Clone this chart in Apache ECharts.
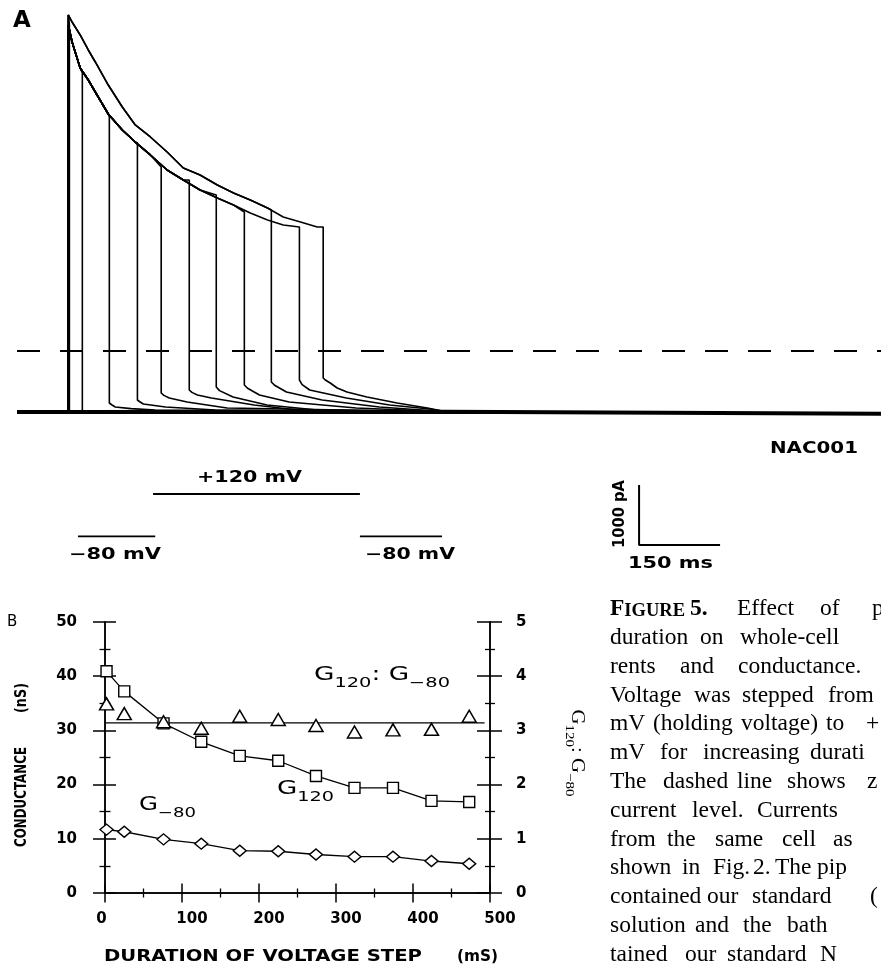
<!DOCTYPE html>
<html>
<head>
<meta charset="utf-8">
<script src="https://cdn.jsdelivr.net/npm/echarts@6/dist/echarts.min.js"></script>
<style>html,body{margin:0;padding:0;background:#fff;overflow:hidden}#c{width:881px;height:967px}</style>
</head>
<body>
<div id="c"></div>
<script>
// ================= Panel A: whole-cell currents (pA) vs time (ms) =================
const stepDurations = [2, 26, 76, 128, 172, 224, 274, 326, 376, 428, 472];
const envTime  = [0, 7, 22, 37, 50, 74, 100, 124, 152, 183, 213, 244, 276, 306, 337, 369, 398, 430, 461, 472];
const envUpper = [5600, 5483, 5267, 5017, 4817, 4433, 4067, 3767, 3567, 3317, 3050, 2933, 2767, 2633, 2517, 2383, 2233, 2150, 2067, 2050];
const envLower = [5433, 5150, 4717, 4517, 4317, 3950, 3683, 3483, 3267, 3017, 2850, 2683, 2550, 2433, 2300, 2183, 2100, 2050, 2017, 2000];
const traceUsesUpper = [true, false, false, false, false, false, false, false, true, false, true];
const dropTop    = [5450, 4633, 3900, 3467, 3067, 2850, 2600, 2317, 2350, 2067, 2067];
const dropBottom = [-1015, -1017, -867, -817, -700, -650, -600, -567, -517, -483, -450];
const tailDt = [
  [], [],
  [5, 11, 40, 85],
  [5, 11, 52, 144],
  [5, 15, 48, 122],
  [5, 15, 41, 120, 200],
  [6, 31, 94, 187],
  [6, 28, 83, 207],
  [6, 28, 94, 200],
  [5, 19, 87, 167, 241],
  [4, 13, 26, 44, 81, 137, 193]
];
const tailCurrent = [
  [], [],
  [-900, -933, -960, -983],
  [-850, -883, -933, -983],
  [-740, -783, -850, -950],
  [-690, -733, -783, -900, -983],
  [-660, -767, -900, -983],
  [-620, -733, -850, -950],
  [-570, -683, -817, -933],
  [-560, -650, -783, -900, -967],
  [-483, -533, -617, -683, -767, -867, -950]
];
const mergeTime = 700, mergeCurrent = -1012;
const holdTime    = [-95, 0, 700, 1505];
const holdCurrent = [-1015, -1015, -1012, -1045];
const zeroTime = [-95, 1505];
const scaleBarTime = 1057, scaleBarCurrent = -3233, scaleBarPA = 1000, scaleBarMS = 150;
// voltage protocol (schematic, mV)
const protoHold1 = [-139, 4], protoStep = [0, 383], protoHold2 = [383, 535];
const holdingMV = -80, stepMV = 120;

// ================= Panel B: conductance vs duration =================
const durationMs = [2, 25, 76, 125, 175, 225, 274, 324, 374, 424, 473];
const g120     = [40.9, 37.2, 31.3, 27.9, 25.3, 24.4, 21.6, 19.4, 19.4, 17.0, 16.8];
const gMinus80 = [11.7, 11.3, 9.9, 9.1, 7.8, 7.7, 7.1, 6.7, 6.7, 5.9, 5.4];
const gRatio   = [3.49, 3.31, 3.16, 3.04, 3.26, 3.20, 3.09, 2.97, 3.01, 3.02, 3.26];
const ratioFitX = [0, 493], ratioFitValue = 3.14;
const durationTicks    = ['0', '100', '200', '300', '400', '500'];
const conductanceTicks = ['0', '10', '20', '30', '40', '50'];
const ratioTicks       = ['0', '1', '2', '3', '4', '5'];

// caption (layout of words)
const captionLines = [
  [['FIGURE', 610], ['5.', 690], ['Effect', 737], ['of', 820], ['p', 872]],
  [['duration', 610], ['on', 700], ['whole-cell', 740]],
  [['rents', 610], ['and', 680], ['conductance.', 738]],
  [['Voltage', 610], ['was', 694], ['stepped', 742], ['from', 828]],
  [['mV', 610], ['(holding', 653], ['voltage)', 741], ['to', 826], ['+', 866]],
  [['mV', 610], ['for', 660], ['increasing', 703], ['durati', 810]],
  [['The', 610], ['dashed', 663], ['line', 737], ['shows', 787], ['z', 867]],
  [['current', 610], ['level.', 692], ['Currents', 757]],
  [['from', 610], ['the', 667], ['same', 715], ['cell', 782], ['as', 833]],
  [['shown', 610], ['in', 682], ['Fig.', 713], ['2.', 753], ['The', 775], ['pip', 817]],
  [['contained', 610], ['our', 707], ['standard', 752], ['(', 870]],
  [['solution', 610], ['and', 695], ['the', 743], ['bath', 787]],
  [['tained', 610], ['our', 685], ['standard', 727], ['N', 820]]
];

// ---------------- helpers ----------------
const mctx = document.createElement('canvas').getContext('2d');
function tw(t, font) { mctx.font = font; return mctx.measureText(t).width; }
const SANS = '"DejaVu Sans"';
const SERIF = '"Liberation Serif"';
const BLACK = '#000';
function fitText(text, font, x, y, target, align, rotation) {
  const sx = target ? target / tw(text, font) : 1;
  return { type: 'text', x: x, y: y, rotation: rotation || 0, scaleX: sx, silent: true,
    style: { text: text, font: font, fill: BLACK, align: align || 'left', verticalAlign: 'middle' } };
}
function subLabel(parts, x, y, target, fam, gSize, sSize, gLH, align, va, rotation) {
  let natural = 0;
  parts.forEach(p => { natural += tw(p[1], (p[0] === 'g' ? gSize : sSize) + 'px ' + fam); });
  const text = parts.map(p => '{' + p[0] + '|' + p[1] + '}').join('');
  return { type: 'text', x: x, y: y, rotation: rotation || 0, scaleX: target / natural, silent: true,
    style: { text: text, fill: BLACK, align: align, verticalAlign: va,
      rich: {
        g: { fontSize: gSize, fontFamily: fam, fill: BLACK, lineHeight: gLH, verticalAlign: 'middle' },
        s: { fontSize: sSize, fontFamily: fam, fill: BLACK, lineHeight: sSize, verticalAlign: 'bottom' }
      } } };
}

function buildTrace(k) {
  const env = traceUsesUpper[k] ? envUpper : envLower;
  const d = stepDurations[k];
  const pts = [[0, holdCurrent[1]]];
  for (let i = 0; i < envTime.length && envTime[i] < d; i++) pts.push([envTime[i], env[i]]);
  if (pts.length === 1) pts.push([0, env[0]]);
  pts.push([d, dropTop[k]]);
  pts.push([d, dropBottom[k]]);
  tailDt[k].forEach((dt, j) => pts.push([d + dt, tailCurrent[k][j]]));
  pts.push([mergeTime, mergeCurrent]);
  pts.push([holdTime[holdTime.length - 1], holdCurrent[holdCurrent.length - 1]]);
  return pts;
}

const series = [];
// zero-current dashed line
series.push({ type: 'line', xAxisIndex: 0, yAxisIndex: 0, data: zeroTime.map(t => [t, 0]),
  symbol: 'none', silent: true, lineStyle: { color: BLACK, width: 2, type: [23, 20] }, z: 1 });
// holding current (thick baseline)
series.push({ type: 'line', xAxisIndex: 0, yAxisIndex: 0, data: holdTime.map((t, i) => [t, holdCurrent[i]]),
  symbol: 'none', silent: true, lineStyle: { color: BLACK, width: 4 }, z: 2 });
// traces
stepDurations.forEach((d, k) => {
  series.push({ type: 'line', name: 'trace ' + d + ' ms', xAxisIndex: 0, yAxisIndex: 0, data: buildTrace(k),
    symbol: 'none', silent: true, lineStyle: { color: BLACK, width: 1.6 }, z: 3 });
});
// scale bar
series.push({ type: 'line', xAxisIndex: 0, yAxisIndex: 0, symbol: 'none', silent: true,
  data: [[scaleBarTime, scaleBarCurrent + scaleBarPA], [scaleBarTime, scaleBarCurrent], [scaleBarTime + scaleBarMS, scaleBarCurrent]],
  lineStyle: { color: BLACK, width: 2 } });
// voltage protocol
[[protoHold1, holdingMV], [protoStep, stepMV], [protoHold2, holdingMV]].forEach(seg => {
  series.push({ type: 'line', xAxisIndex: 1, yAxisIndex: 1, symbol: 'none', silent: true,
    data: seg[0].map(t => [t, seg[1]]), lineStyle: { color: BLACK, width: 1.8 } });
});
// Panel B
series.push({ type: 'line', name: 'G120', xAxisIndex: 2, yAxisIndex: 2,
  data: durationMs.map((x, i) => [x, g120[i]]), symbol: 'rect', symbolSize: 11,
  lineStyle: { color: BLACK, width: 1.3 }, itemStyle: { color: '#fff', borderColor: BLACK, borderWidth: 1.4, opacity: 1 }, z: 5 });
series.push({ type: 'line', name: 'G-80', xAxisIndex: 2, yAxisIndex: 2,
  data: durationMs.map((x, i) => [x, gMinus80[i]]), symbol: 'diamond', symbolSize: [13, 11],
  lineStyle: { color: BLACK, width: 1.3 }, itemStyle: { color: '#fff', borderColor: BLACK, borderWidth: 1.4, opacity: 1 }, z: 5 });
series.push({ type: 'line', name: 'ratio fit', xAxisIndex: 2, yAxisIndex: 4,
  data: ratioFitX.map(x => [x, ratioFitValue]), symbol: 'none', lineStyle: { color: BLACK, width: 1.3 }, z: 4 });
series.push({ type: 'scatter', name: 'G120:G-80', xAxisIndex: 2, yAxisIndex: 4,
  data: durationMs.map((x, i) => [x, gRatio[i]]), symbol: 'triangle', symbolSize: [14, 12],
  itemStyle: { color: '#fff', borderColor: BLACK, borderWidth: 1.5, opacity: 1 }, z: 6 });

const tickFont = { fontFamily: 'DejaVu Sans', fontSize: 15, fontWeight: 'bold', color: BLACK };
const aLine = { show: true, onZero: false, lineStyle: { color: BLACK, width: 1.5 } };
function tickCfg(inside, len) { return { show: true, inside: inside, length: len, lineStyle: { color: BLACK, width: 1.5 } }; }
function minorCfg(len) { return { show: true, splitNumber: 2, length: len, lineStyle: { color: BLACK, width: 1.3 } }; }

const xAxis = [
  { gridIndex: 0, type: 'value', min: -95, max: 1505, show: false },
  { gridIndex: 1, type: 'value', min: -139, max: 535, show: false },
  { gridIndex: 2, type: 'value', min: 0, max: 500, interval: 100, position: 'bottom',
    axisLine: aLine, splitLine: { show: false }, axisTick: tickCfg(false, 9.5), minorTick: minorCfg(4.5),
    axisLabel: { margin: 19,
      formatter: v => { const i = Math.round(v / 100); return i === 0 ? '{z|' + durationTicks[0] + '}' : '{n|' + durationTicks[i] + '}'; },
      rich: { n: Object.assign({ padding: [0, 0, 0, 20] }, tickFont), z: Object.assign({ padding: [0, 7, 0, 0] }, tickFont) } } },
  { gridIndex: 2, type: 'value', min: 0, max: 500, interval: 100, position: 'bottom',
    axisLine: aLine, splitLine: { show: false }, axisTick: tickCfg(true, 9.5), minorTick: minorCfg(4.5),
    axisLabel: { show: false } }
];
const yAxis = [
  { gridIndex: 0, type: 'value', min: -3500, max: 5700, show: false },
  { gridIndex: 1, type: 'value', min: -80, max: 120, show: false },
  { gridIndex: 2, type: 'value', min: 0, max: 50, interval: 10, position: 'left',
    axisLine: aLine, splitLine: { show: false }, axisTick: tickCfg(false, 12), minorTick: minorCfg(5.5),
    axisLabel: Object.assign({ margin: 28, formatter: v => conductanceTicks[Math.round(v / 10)] }, tickFont) },
  { gridIndex: 2, type: 'value', min: 0, max: 50, interval: 10, position: 'left',
    axisLine: aLine, splitLine: { show: false }, axisTick: tickCfg(true, 11), minorTick: minorCfg(5.5),
    axisLabel: { show: false } },
  { gridIndex: 2, type: 'value', min: 0, max: 5, interval: 1, position: 'right',
    axisLine: aLine, splitLine: { show: false }, axisTick: tickCfg(false, 12), minorTick: minorCfg(5),
    axisLabel: Object.assign({ margin: 26, formatter: v => ratioTicks[Math.round(v)] }, tickFont) },
  { gridIndex: 2, type: 'value', min: 0, max: 5, interval: 1, position: 'right',
    axisLine: aLine, splitLine: { show: false }, axisTick: tickCfg(true, 13), minorTick: minorCfg(5),
    axisLabel: { show: false } }
];

// ---------------- text (graphic) ----------------
const g = [];
const plot = (sz) => 'bold ' + sz + 'px ' + SANS;
g.push(fitText('A', 'bold 23px ' + SANS, 13, 21.5, 0, 'left'));
g.push(fitText('NAC001', plot(16), 770, 448.5, 88, 'left'));
g.push(fitText('+120 mV', plot(15), 197, 478.5, 105, 'left'));
g.push(fitText('\u221280 mV', plot(15), 69, 555, 92, 'left'));
g.push(fitText('\u221280 mV', plot(15), 365, 555, 90, 'left'));
g.push(fitText('1000 pA', plot(15), 620, 514, 68, 'center', Math.PI / 2));
g.push(fitText('150 ms', plot(15), 628, 564, 85, 'left'));
g.push(fitText('B', '15px ' + SANS, 7, 622, 0, 'left'));
g.push(fitText('CONDUCTANCE', plot(15), 22, 847, 100, 'left', Math.PI / 2));
g.push(fitText('(nS)', plot(15), 22, 713, 30, 'left', Math.PI / 2));
g.push(fitText('DURATION OF VOLTAGE STEP', plot(15), 104, 957.5, 318, 'left'));
g.push(fitText('(mS)', plot(15), 457, 957.5, 41, 'left'));
g.push(subLabel([['g', 'G'], ['s', '120'], ['g', ': G'], ['s', '\u221280']], 314, 660, 136, SANS, 19, 14, 30, 'left', 'top'));
g.push(subLabel([['g', 'G'], ['s', '120']], 277, 774, 57, SANS, 19, 14, 30, 'left', 'top'));
g.push(subLabel([['g', 'G'], ['s', '\u221280']], 139, 790, 57, SANS, 19, 14, 30, 'left', 'top'));
g.push(subLabel([['g', 'G'], ['s', '120'], ['g', ': G'], ['s', '\u221280']], 577, 753, 87, SERIF, 18, 13, 28, 'center', 'middle', -Math.PI / 2));

// caption
const capSize = 23.5;
captionLines.forEach((line, li) => {
  const yMid = 617 + 28.8 * li - 8;
  line.forEach(w => {
    if (w[0] === 'FIGURE') {
      g.push({ type: 'text', x: w[1], y: yMid, silent: true,
        style: { text: '{a|F}{b|IGURE}', fill: BLACK, align: 'left', verticalAlign: 'middle',
          rich: { a: { fontSize: capSize, fontFamily: SERIF, fontWeight: 'bold', fill: BLACK, lineHeight: capSize },
                  b: { fontSize: 18.5, fontFamily: SERIF, fontWeight: 'bold', fill: BLACK, lineHeight: 18.5, verticalAlign: 'bottom' } } } });
    } else {
      const font = (li === 0 && w[0] === '5.' ? 'bold ' : '') + capSize + 'px ' + SERIF;
      g.push({ type: 'text', x: w[1], y: yMid, silent: true,
        style: { text: w[0], font: font, fill: BLACK, align: 'left', verticalAlign: 'middle' } });
    }
  });
});

const option = {
  animation: false,
  backgroundColor: '#fff',
  grid: [
    { left: 17, top: 9, width: 864, height: 552, containLabel: false, outerBoundsMode: 'none' },
    { left: 78, top: 494, width: 364, height: 42.5, containLabel: false, outerBoundsMode: 'none' },
    { left: 105, top: 622, width: 385, height: 271, containLabel: false, outerBoundsMode: 'none' }
  ],
  xAxis: xAxis,
  yAxis: yAxis,
  series: series,
  graphic: { elements: g }
};
const chart = echarts.init(document.getElementById('c'), null, { renderer: 'canvas', width: 881, height: 967 });
chart.setOption(option);
</script>
</body>
</html>
